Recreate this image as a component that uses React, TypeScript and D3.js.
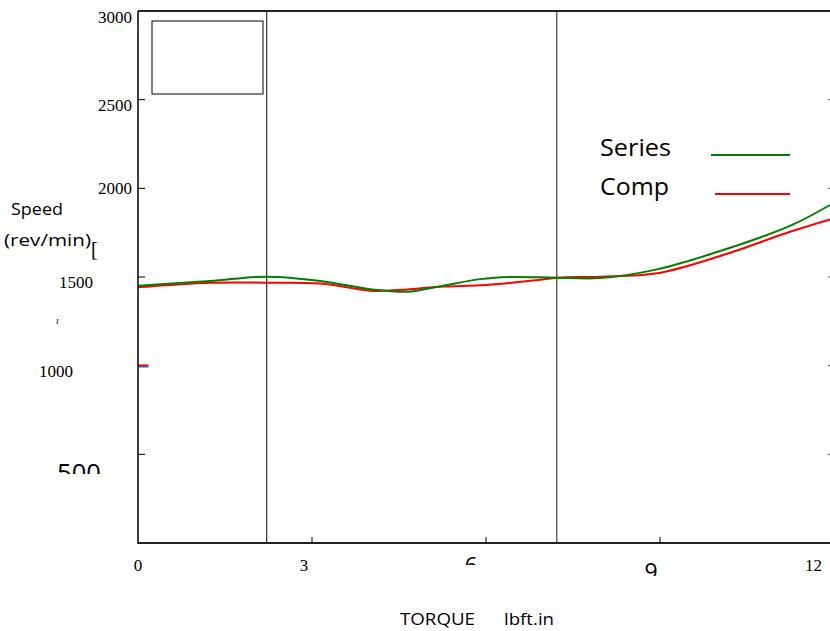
import React from "react";
import * as d3 from "d3";

const torque = [0, 1.24, 2.22, 3.14, 4.0, 4.29, 4.64, 5.26, 5.9, 6.41, 6.93, 7.24, 7.97, 8.95, 10.09, 11.24, 11.93];
const seriesSpeed = [1451, 1477, 1502, 1478, 1431, 1422, 1417, 1451, 1488, 1500, 1498, 1496, 1494, 1543, 1652, 1788, 1906];
const compSpeed = [1442, 1468, 1468, 1463, 1423, 1423, 1430, 1446, 1453, 1466, 1485, 1496, 1502, 1521, 1624, 1755, 1825];
const markerX = [0, 0.18];
const markerSpeed = 1000;
const cursorX = [2.22, 7.22];
const yTicks = [3000, 2500, 2000, 1500, 1000, 500];
const xTicks = [0, 3, 6, 9, 12];

export default function App() {
  const W = 830, H = 631;
  const x = d3.scaleLinear().domain([0, 12]).range([138, 834]);
  const y = d3.scaleLinear().domain([0, 3000]).range([543, 11]);
  const line = d3.line<number>()
    .x((_, i) => x(torque[i]))
    .y((d) => y(d))
    .curve(d3.curveCatmullRom.alpha(0.5));
  const serif = "'Liberation Serif', 'Times New Roman', serif";
  const sans = "'Open Sans', 'Liberation Sans', sans-serif";
  const x0 = x(0);
  const fit = "spacingAndGlyphs";
  return (
    <svg width={W} height={H} style={{ position: "absolute", left: 0, top: 0, background: "#fff" }}>
      <defs>
        <clipPath id="plot"><rect x={x0} y={y(3000)} width={W - x0} height={y(0) - y(3000)} /></clipPath>
        <clipPath id="c500"><rect x={40} y={440} width={80} height={34} /></clipPath>
        <clipPath id="c6"><rect x={455} y={545} width={40} height={20} /></clipPath>
        <clipPath id="c9"><rect x={635} y={550} width={40} height={26} /></clipPath>
      </defs>
      {/* cursor lines */}
      <line x1={x(cursorX[0])} x2={x(cursorX[0])} y1={y(3000)} y2={y(0)} stroke="#000" strokeWidth={1} />
      <line x1={x(cursorX[1])} x2={x(cursorX[1])} y1={y(3000)} y2={y(0)} stroke="#666" strokeWidth={1.5} />
      {/* legend box top-left */}
      <rect x={152} y={21} width={111} height={73} fill="none" stroke="#000" strokeWidth={1} />
      {/* data lines */}
      <g clipPath="url(#plot)">
        <path d={line(compSpeed) || ""} fill="none" stroke="#ff0000" strokeWidth={2} />
        <path d={line(seriesSpeed) || ""} fill="none" stroke="#008000" strokeWidth={2} />
      </g>
      {/* marker at 1000 */}
      <line x1={x(markerX[0])} x2={x(markerX[1])} y1={y(markerSpeed) + 1} y2={y(markerSpeed) + 1} stroke="#1f4fd0" strokeWidth={1.5} />
      <line x1={x(markerX[0])} x2={x(markerX[1])} y1={y(markerSpeed) - 0.5} y2={y(markerSpeed) - 0.5} stroke="#ff0000" strokeWidth={1.5} />
      {/* axes frame */}
      <line x1={x0} x2={x0} y1={y(3000)} y2={y(0) + 1} stroke="#000" strokeWidth={1.5} />
      <line x1={x0} x2={W} y1={y(3000)} y2={y(3000)} stroke="#222" strokeWidth={2} />
      <line x1={x0} x2={W} y1={y(0)} y2={y(0)} stroke="#222" strokeWidth={2} />
      {/* y ticks */}
      {yTicks.filter((t) => t !== 1000 && t !== 3000).map((t) => (
        <line key={"yt" + t} x1={x0} x2={x0 + 7} y1={y(t)} y2={y(t)} stroke="#000" strokeWidth={1} />
      ))}
      {yTicks.filter((t) => t !== 3000).map((t) => (
        <line key={"yr" + t} x1={W - 2} x2={W} y1={y(t)} y2={y(t)} stroke="#555" strokeWidth={1} />
      ))}
      {/* x ticks */}
      {xTicks.filter((t) => t > 0 && t < 12).map((t) => (
        <line key={"xt" + t} x1={x(t)} x2={x(t)} y1={y(0)} y2={y(0) - 6} stroke="#000" strokeWidth={1} />
      ))}
      {/* y labels */}
      <text x={132} y={23} fontFamily={serif} fontSize={17} textAnchor="end">{yTicks[0]}</text>
      <text x={132} y={y(2500) + 11} fontFamily={serif} fontSize={17} textAnchor="end">{yTicks[1]}</text>
      <text x={132} y={y(2000) + 6} fontFamily={serif} fontSize={17} textAnchor="end">{yTicks[2]}</text>
      <text x={93} y={y(1500) + 11} fontFamily={serif} fontSize={17} textAnchor="end">{yTicks[3]}</text>
      <text x={73} y={y(1000) + 11} fontFamily={serif} fontSize={17} textAnchor="end">{yTicks[4]}</text>
      <g clipPath="url(#c500)">
        <text x={57} y={482} fontFamily={sans} fontSize={25} textLength={44} lengthAdjust={fit}>{yTicks[5]}</text>
      </g>
      {/* x labels */}
      <text x={x(0)} y={571} fontFamily={serif} fontSize={17} textAnchor="middle">{xTicks[0]}</text>
      <text x={x(3) - 8} y={571} fontFamily={serif} fontSize={17} textAnchor="middle">{xTicks[1]}</text>
      <g clipPath="url(#c6)">
        <text x={x(6) - 15} y={574} fontFamily={sans} fontSize={23} textAnchor="middle">{xTicks[2]}</text>
      </g>
      <g clipPath="url(#c9)">
        <text x={x(9) - 9} y={580} fontFamily={sans} fontSize={23} textAnchor="middle">{xTicks[3]}</text>
      </g>
      <text x={822} y={571} fontFamily={serif} fontSize={17} textAnchor="end">{xTicks[4]}</text>
      {/* axis titles */}
      <text x={11} y={215} fontFamily={sans} fontSize={17} textLength={52} lengthAdjust={fit}>Speed</text>
      <text x={4} y={246} fontFamily={sans} fontSize={17} textLength={87} lengthAdjust={fit}>(rev/min)</text>
      <text x={91} y={256} fontFamily={serif} fontSize={20}>[</text>
      <text x={56} y={324} fontFamily={serif} fontSize={10} fontStyle="italic">ı</text>
      <text x={400} y={625} fontFamily={sans} fontSize={16} textLength={75} lengthAdjust={fit}>TORQUE</text>
      <text x={504} y={625} fontFamily={sans} fontSize={16} textLength={50} lengthAdjust={fit}>lbft.in</text>
      {/* legend */}
      <text x={600} y={156} fontFamily={sans} fontSize={23} textLength={71} lengthAdjust={fit}>Series</text>
      <line x1={711} x2={790} y1={155} y2={155} stroke="#008000" strokeWidth={2} />
      <text x={600} y={195} fontFamily={sans} fontSize={23} textLength={69} lengthAdjust={fit}>Comp</text>
      <line x1={715} x2={790} y1={194} y2={194} stroke="#ff0000" strokeWidth={2} />
    </svg>
  );
}
